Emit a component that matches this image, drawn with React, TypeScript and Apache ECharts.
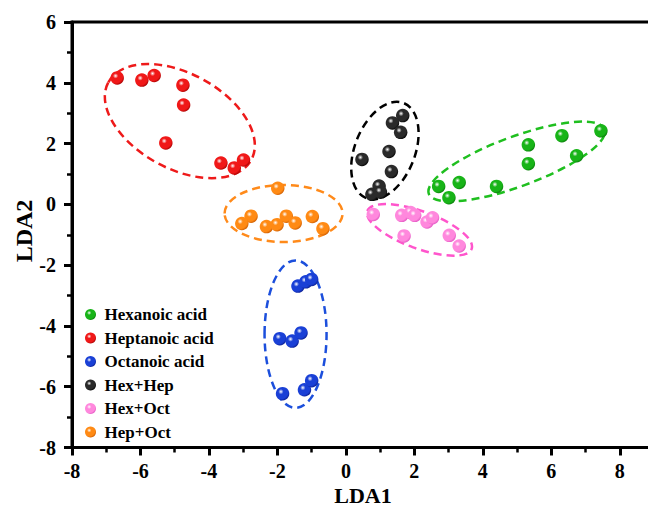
import React, { useEffect, useRef } from "react";
import * as echarts from "echarts";

const seriesNames = ["Hexanoic acid", "Heptanoic acid", "Octanoic acid", "Hex+Hep", "Hex+Oct", "Hep+Oct"];

const hexanoic = [[7.45, 2.42], [6.31, 2.26], [5.33, 1.96], [5.33, 1.34], [6.74, 1.6], [3.31, 0.72], [2.71, 0.59], [4.4, 0.59], [3.01, 0.22]];
const heptanoic = [[-6.68, 4.16], [-5.96, 4.09], [-5.6, 4.24], [-4.76, 3.92], [-4.74, 3.27], [-5.26, 2.02], [-3.65, 1.36], [-3.26, 1.2], [-2.99, 1.46]];
const octanoic = [[-1.4, -2.69], [-1.17, -2.55], [-1.0, -2.47], [-1.93, -4.42], [-1.57, -4.5], [-1.31, -4.23], [-1.85, -6.23], [-1.21, -6.1], [-1.0, -5.8]];
const hexHep = [[1.66, 2.92], [1.36, 2.68], [1.6, 2.37], [1.26, 1.74], [0.47, 1.48], [1.33, 1.08], [0.97, 0.6], [0.76, 0.33], [1.01, 0.4]];
const hexOct = [[0.8, -0.33], [1.63, -0.36], [1.89, -0.27], [2.01, -0.36], [2.37, -0.58], [2.53, -0.44], [1.7, -1.04], [3.02, -1.02], [3.31, -1.37]];
const hepOct = [[-1.99, 0.53], [-2.77, -0.39], [-3.04, -0.63], [-2.32, -0.73], [-2.01, -0.67], [-1.74, -0.39], [-1.48, -0.61], [-0.98, -0.4], [-0.67, -0.8]];

// cluster outline centres (data units)
const ellipseCenters = [[4.99, 1.41], [-4.85, 2.74], [-1.47, -4.27], [1.14, 1.77], [2.15, -0.84], [-1.82, -0.3]];

const allData = [hexanoic, heptanoic, octanoic, hexHep, hexOct, hepOct];

const xTitle = "LDA1";
const yTitle = "LDA2";

// styles
const baseColors = ["#18b418", "#f01818", "#1a40d6", "#2a2a2a", "#ff88dd", "#ff8a14"];
const darkColors = ["#0a780a", "#a00000", "#0a1c8c", "#000000", "#e050c0", "#c85800"];
const lineColors = ["#1fbf1f", "#ee1a1a", "#1c4fdc", "#000000", "#ff55cc", "#ff8a1a"];
// ellipse shape in pixels: [rx, ry, rotation deg (ccw)]
const ellipseShapes = [[93.7, 24.9, 20.2], [81.3, 47.6, -28.5], [31, 73.7, 0], [51.1, 30.1, 68.5], [55.5, 18.6, -20], [59, 28.5, 0]];

const FONT = "'Liberation Serif', 'Times New Roman', serif";

function sphere(i: number) {
  return {
    type: "radial",
    x: 0.38,
    y: 0.35,
    r: 0.7,
    colorStops: [
      { offset: 0, color: "#ffffff" },
      { offset: 0.28, color: baseColors[i] },
      { offset: 0.75, color: baseColors[i] },
      { offset: 1, color: darkColors[i] },
    ],
  };
}

export default function App() {
  const ref = useRef<HTMLDivElement>(null);
  useEffect(() => {
    if (!ref.current) return;
    const chart = echarts.init(ref.current, undefined, { renderer: "svg" });
    const scatterSeries = allData.map((d, i) => ({
      name: seriesNames[i],
      type: "scatter",
      data: d,
      symbol: "circle",
      symbolSize: 13.5,
      z: 5,
      itemStyle: { color: sphere(i), opacity: 1 },
    }));
    const ellipseSeries = {
      type: "custom",
      z: 3,
      silent: true,
      data: ellipseCenters,
      renderItem: (params: any, api: any) => {
        const i = params.dataIndex;
        const c = api.coord([api.value(0), api.value(1)]);
        const s = ellipseShapes[i];
        return {
          type: "ellipse",
          x: c[0],
          y: c[1],
          rotation: (s[2] * Math.PI) / 180,
          shape: { cx: 0, cy: 0, rx: s[0], ry: s[1] },
          style: { fill: "none", stroke: lineColors[i], lineWidth: 2.5, lineDash: [8, 5] },
        };
      },
    };
    chart.setOption({
      animation: false,
      backgroundColor: "#ffffff",
      grid: {
        left: 72,
        top: 22,
        width: 582,
        height: 425.5,
        show: true,
        borderColor: "#000",
        borderWidth: 3,
        outerBoundsMode: "none",
        containLabel: false,
      },
      xAxis: {
        type: "value",
        min: -8,
        max: 9,
        interval: 2,
        axisLine: { show: true, onZero: false, lineStyle: { color: "#000", width: 3 } },
        axisTick: { show: true, inside: false, length: 8, lineStyle: { width: 3, color: "#000" } },
        minorTick: { show: true, splitNumber: 2, length: 5, lineStyle: { width: 2.5, color: "#000" } },
        splitLine: { show: false },
        axisLabel: {
          margin: 13,
          color: "#000",
          fontFamily: FONT,
          fontWeight: "bold",
          fontSize: 20,
          showMaxLabel: false,
        },
      },
      yAxis: {
        type: "value",
        min: -8,
        max: 6,
        interval: 2,
        axisLine: { show: true, onZero: false, lineStyle: { color: "#000", width: 3 } },
        axisTick: { show: true, inside: false, length: 8, lineStyle: { width: 3, color: "#000" } },
        minorTick: { show: true, splitNumber: 2, length: 5, lineStyle: { width: 2.5, color: "#000" } },
        splitLine: { show: false },
        axisLabel: { margin: 16, color: "#000", fontFamily: FONT, fontWeight: "bold", fontSize: 20 },
      },
      graphic: [
        {
          type: "text",
          x: 363,
          y: 495,
          style: {
            text: xTitle,
            fill: "#000",
            font: "bold 22px " + FONT,
            textAlign: "center",
            textVerticalAlign: "middle",
          },
        },
        {
          type: "text",
          x: 24,
          y: 231,
          rotation: Math.PI / 2,
          style: {
            text: yTitle,
            fill: "#000",
            font: "bold 24px " + FONT,
            textAlign: "center",
            textVerticalAlign: "middle",
          },
        },
      ],
      legend: {
        orient: "vertical",
        left: 80,
        top: 301,
        itemWidth: 18,
        itemHeight: 11,
        itemGap: 6.5,
        icon: "circle",
        data: seriesNames,
        textStyle: { color: "#000", fontFamily: FONT, fontWeight: "bold", fontSize: 17 },
      },
      series: [ellipseSeries, ...scatterSeries],
    });
    return () => chart.dispose();
  }, []);
  return <div ref={ref} style={{ position: "fixed", left: 0, top: 0, width: 648, height: 508 }} />;
}
